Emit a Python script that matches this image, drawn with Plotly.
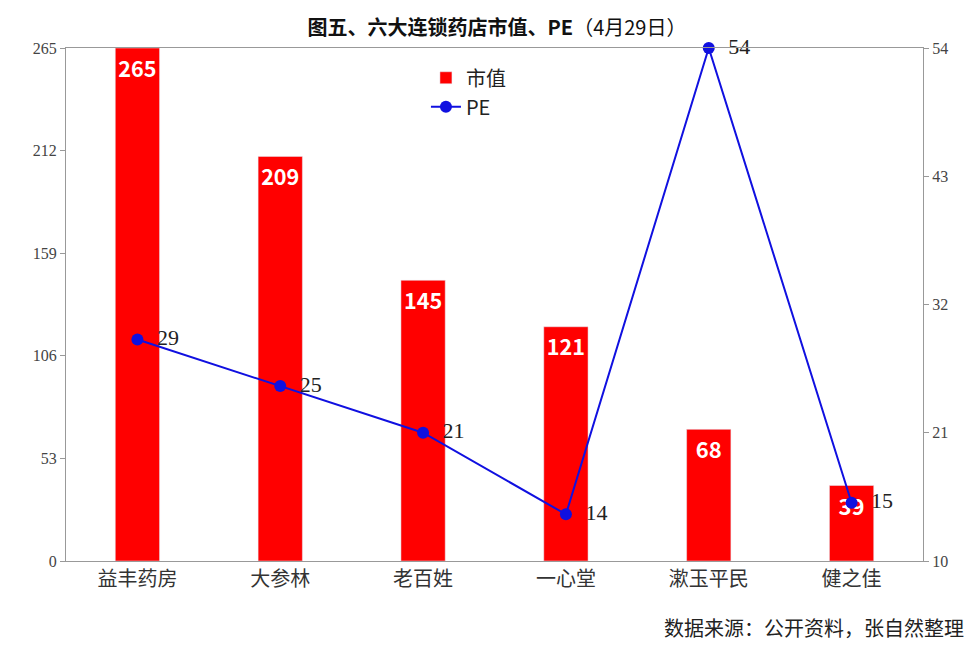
import plotly.graph_objects as go

cats = ["益丰药房", "大参林", "老百姓", "一心堂", "漱玉平民", "健之佳"]
mv = [265, 209, 145, 121, 68, 39]
pe = [29, 25, 21, 14, 54, 15]
left_ticks = [0, 53, 106, 159, 212, 265]
right_ticks = [10, 21, 32, 43, 54]

fig = go.Figure()
fig.add_trace(go.Bar(x=cats, y=mv, name="市值", marker_color="#FF0000", width=0.31,
                     text=["<b>%d</b>" % v for v in mv], textposition="inside", insidetextanchor="end",
                     textfont=dict(color="white", size=22, family="Noto Sans CJK SC"),
                     textangle=0))
fig.add_trace(go.Scatter(x=cats, y=pe, name="PE", yaxis="y2", mode="lines+markers+text",
                         line=dict(color="#1010E0", width=2), marker=dict(size=12, color="#1010E0"),
                         text=["  " + str(v) for v in pe], textposition="middle right", cliponaxis=False,
                         textfont=dict(size=22, color="#222", family="Liberation Serif")))
fig.update_layout(
    width=978, height=654, plot_bgcolor="white", paper_bgcolor="white",
    margin=dict(l=58, r=63, t=40, b=101),
    title=dict(text="<b>图五、六大连锁药店市值、PE</b>（4月29日）", x=0.5, y=0.98, xanchor="center",
               font=dict(size=20, color="#111", family="Noto Sans CJK SC")),
    xaxis=dict(showline=True, linecolor="#999", mirror=True, ticks="",
               tickfont=dict(size=20, color="#333", family="Noto Sans CJK SC")),
    yaxis=dict(range=[0, 265], tickvals=left_ticks, showgrid=False, showline=True, linecolor="#999",
               ticks="outside", ticklen=5, tickcolor="#999",
               tickfont=dict(size=16, color="#444", family="Liberation Serif")),
    yaxis2=dict(range=[10, 54], tickvals=right_ticks, overlaying="y", side="right", showgrid=False,
                showline=True, linecolor="#999", ticks="outside", ticklen=5, tickcolor="#999",
                tickfont=dict(size=16, color="#444", family="Liberation Serif")),
    legend=dict(x=0.42, y=0.98, xanchor="left", yanchor="top", bgcolor="rgba(0,0,0,0)",
                font=dict(size=20, color="#222", family="Noto Sans CJK SC"), tracegroupgap=12),
    showlegend=True,
)
fig.add_annotation(text="数据来源：公开资料，张自然整理", xref="paper", yref="paper", x=1.05, y=-0.13,
                   xanchor="right", yanchor="middle", showarrow=False,
                   font=dict(size=20, color="#222", family="Noto Sans CJK SC"))
fig.write_html("out.html")
